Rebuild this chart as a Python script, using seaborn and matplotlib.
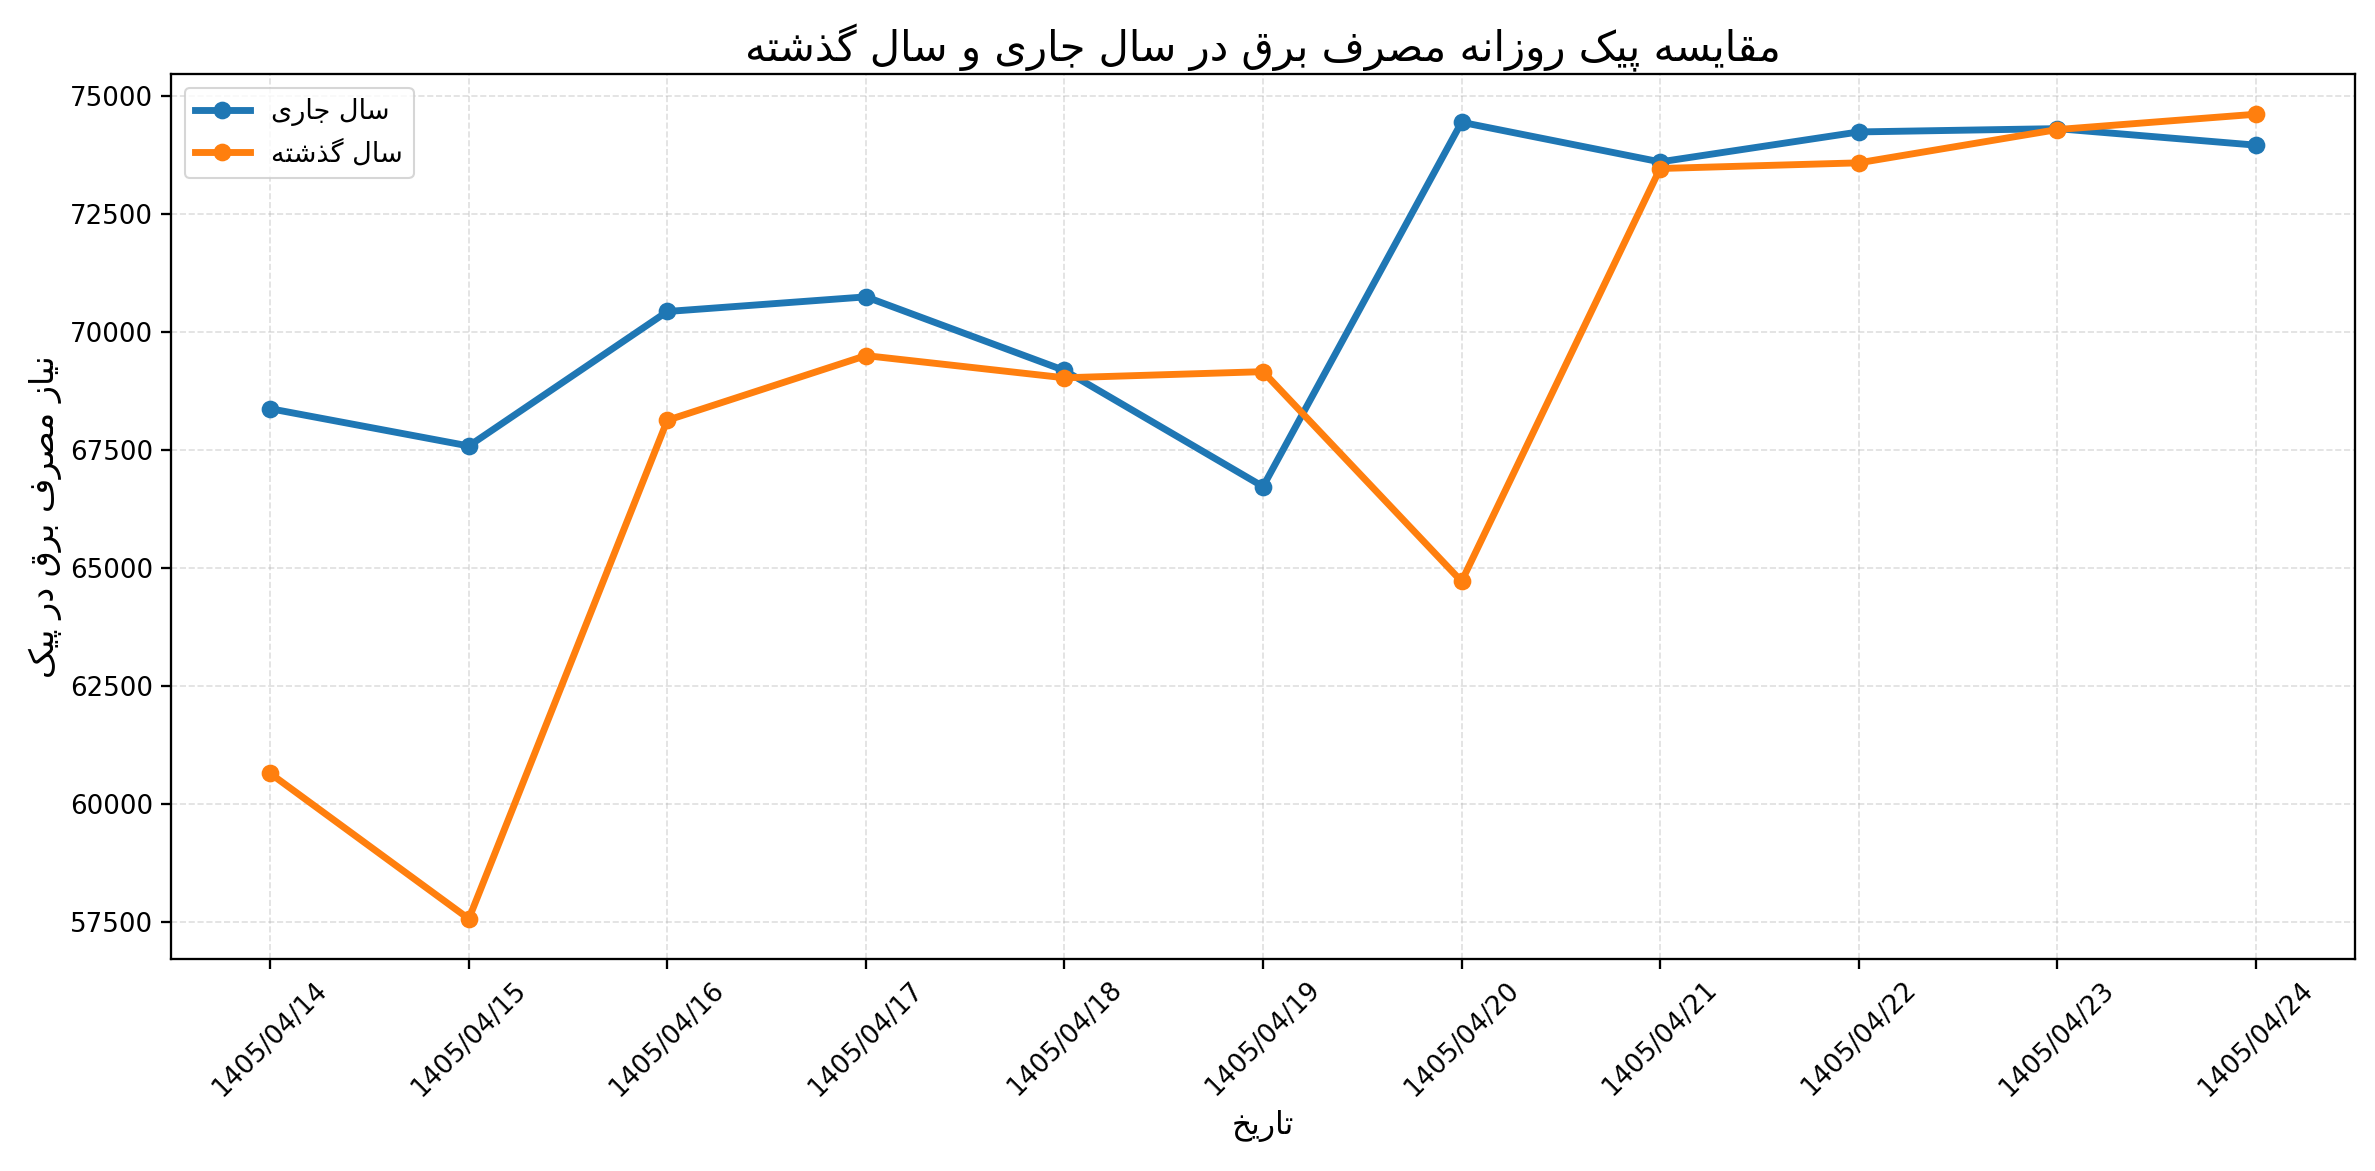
import pandas as pd
import matplotlib
matplotlib.use("Agg")
import matplotlib.pyplot as plt
import seaborn as sns

dates = ["1405/04/14", "1405/04/15", "1405/04/16", "1405/04/17", "1405/04/18",
         "1405/04/19", "1405/04/20", "1405/04/21", "1405/04/22", "1405/04/23",
         "1405/04/24"]
current_year = [68380, 67590, 70440, 70750, 69190, 66730, 74450, 73610, 74245, 74315, 73965]
last_year = [60650, 57570, 68135, 69505, 69035, 69165, 64720, 73470, 73590, 74295, 74620]

title_fa = "مقایسه پیک روزانه مصرف برق در سال جاری و سال گذشته"
xlabel_fa = "تاریخ"
ylabel_fa = "نیاز مصرف برق در پیک"
current_fa = "سال جاری"
last_fa = "سال گذشته"

# presentation forms: isolated, final, initial, medial
FORMS = {
    'ا': ('\uFE8D', '\uFE8E', None, None),
    'ب': ('\uFE8F', '\uFE90', '\uFE91', '\uFE92'),
    'پ': ('\uFB56', '\uFB57', '\uFB58', '\uFB59'),
    'ت': ('\uFE95', '\uFE96', '\uFE97', '\uFE98'),
    'ج': ('\uFE9D', '\uFE9E', '\uFE9F', '\uFEA0'),
    'خ': ('\uFEA5', '\uFEA6', '\uFEA7', '\uFEA8'),
    'د': ('\uFEA9', '\uFEAA', None, None),
    'ذ': ('\uFEAB', '\uFEAC', None, None),
    'ر': ('\uFEAD', '\uFEAE', None, None),
    'ز': ('\uFEAF', '\uFEB0', None, None),
    'س': ('\uFEB1', '\uFEB2', '\uFEB3', '\uFEB4'),
    'ش': ('\uFEB5', '\uFEB6', '\uFEB7', '\uFEB8'),
    'ص': ('\uFEB9', '\uFEBA', '\uFEBB', '\uFEBC'),
    'ف': ('\uFED1', '\uFED2', '\uFED3', '\uFED4'),
    'ق': ('\uFED5', '\uFED6', '\uFED7', '\uFED8'),
    'ک': ('\uFB8E', '\uFB8F', '\uFB90', '\uFB91'),
    'گ': ('\uFB92', '\uFB93', '\uFB94', '\uFB95'),
    'ل': ('\uFEDD', '\uFEDE', '\uFEDF', '\uFEE0'),
    'م': ('\uFEE1', '\uFEE2', '\uFEE3', '\uFEE4'),
    'ن': ('\uFEE5', '\uFEE6', '\uFEE7', '\uFEE8'),
    'و': ('\uFEED', '\uFEEE', None, None),
    'ه': ('\uFEE9', '\uFEEA', '\uFEEB', '\uFEEC'),
    'ی': ('\uFBFC', '\uFBFD', '\uFBFE', '\uFBFF'),
}


def fa(text):
    # join letters and flip to visual order, matplotlib has no shaping
    text = text.replace('\u064A', '\u06CC').replace('\u0643', '\u06A9')
    out = []
    for i, ch in enumerate(text):
        if ch not in FORMS:
            out.append(ch)
            continue
        prev = text[i - 1] if i > 0 else None
        nxt = text[i + 1] if i + 1 < len(text) else None
        join_prev = prev in FORMS and FORMS[prev][2] is not None
        join_next = nxt in FORMS and FORMS[ch][2] is not None
        iso, fin, ini, med = FORMS[ch]
        if join_prev and join_next:
            out.append(med)
        elif join_prev:
            out.append(fin)
        elif join_next:
            out.append(ini)
        else:
            out.append(iso)
    return ''.join(reversed(out))


df = pd.DataFrame({
    'date': dates * 2,
    'value': current_year + last_year,
    'series': [fa(current_fa)] * len(dates) + [fa(last_fa)] * len(dates),
})

plt.rcParams['font.family'] = ['DejaVu Sans']
fig, ax = plt.subplots(figsize=(2375 / 150, 1171 / 150), dpi=150)

sns.lineplot(data=df, x='date', y='value', hue='series',
             hue_order=[fa(current_fa), fa(last_fa)],
             palette=['#1f77b4', '#ff7f0e'], marker='o', markersize=8.5,
             markeredgewidth=0, linewidth=3.3, sort=False, ax=ax)

ax.set_title(fa(title_fa), fontsize=20)
ax.set_xlabel(fa(xlabel_fa), fontsize=15)
ax.set_ylabel(fa(ylabel_fa), fontsize=16)
ax.tick_params(axis='x', rotation=45)
ax.tick_params(labelsize=12.5, length=5, width=1.1)
for s in ax.spines.values():
    s.set_linewidth(1.1)
ax.grid(True, linestyle='--', alpha=0.4)
sns.move_legend(ax, 'upper left', title=None, fontsize=13)

plt.subplots_adjust(left=0.072, right=0.9916, top=0.9368, bottom=0.181)
plt.savefig('out.png', dpi=150)
